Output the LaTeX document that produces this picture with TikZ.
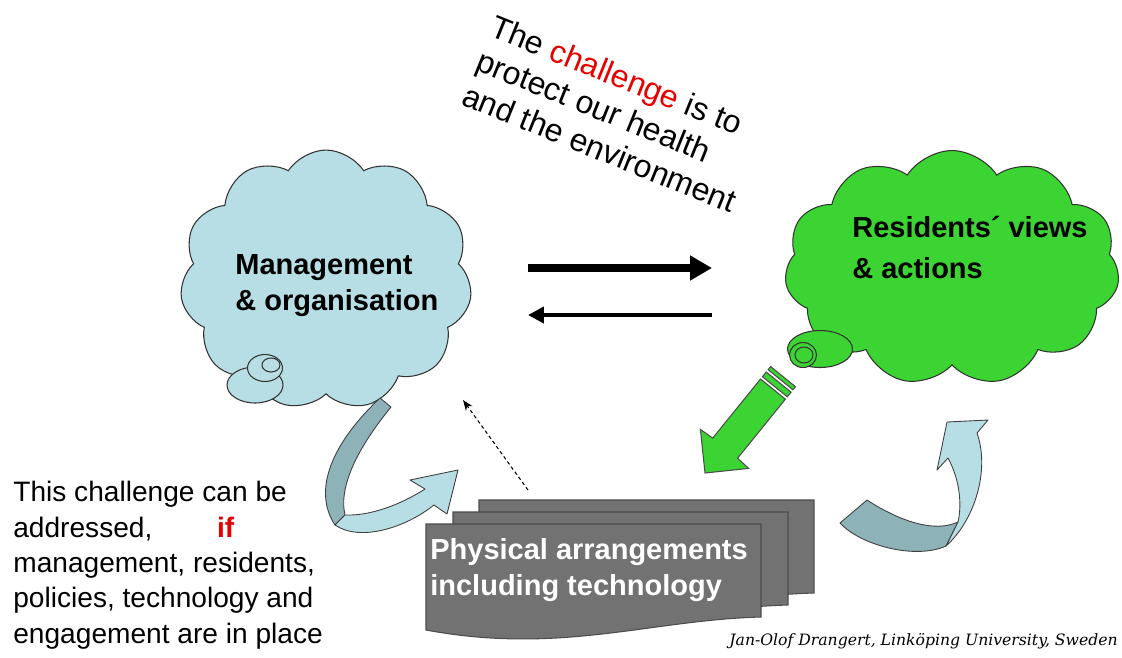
\documentclass[tikz,border=0pt]{standalone}
\usepackage{fontspec}
\setmainfont{Liberation Sans}
\newfontfamily\creditfont{DejaVu Serif}
\usepackage{tikz}
\usetikzlibrary{arrows.meta,shapes.symbols,shapes.geometric}
\definecolor{skyfill}{RGB}{183,222,228}
\definecolor{banddark}{RGB}{141,178,183}
\definecolor{leafgreen}{RGB}{60,212,50}
\definecolor{docgray}{RGB}{114,114,114}
\definecolor{hotred}{RGB}{230,0,0}
\tikzset{x=0.02cm,y=0.02cm}
\tikzset{
  thought/.style={cloud,cloud puffs=11,cloud puff arc=115,draw=black!80,line width=0.6pt,inner sep=0pt},
  bubble/.style={ellipse,draw=black!80,line width=0.6pt,inner sep=0pt},
  boldtext/.style={font=\fontsize{16.5}{20}\selectfont\bfseries,align=left,inner sep=0pt,anchor=base west},
  plaintext/.style={font=\fontsize{16}{20.1}\selectfont,align=left,inner sep=0pt,anchor=base west},
  band/.style={draw=black!75,line width=0.5pt,line join=round},
  sheet/.style={draw=black!70,fill=docgray,line width=0.6pt}
}

\begin{document}
\begin{tikzpicture}
\useasboundingbox (0,0) rectangle (1122,-657);

\node[thought,fill=skyfill,minimum width=5.84cm,minimum height=5.2cm] (mgmt) at (326,-280) {};
\node[bubble,fill=skyfill,minimum width=1.12cm,minimum height=0.72cm] (mb1) at (255,-385) {};
\node[bubble,fill=skyfill,minimum width=0.7cm,minimum height=0.54cm] (mb2) at (265,-368) {};
\node[bubble,fill=skyfill,minimum width=0.36cm,minimum height=0.28cm] (mb3) at (271,-365) {};
\node[boldtext] (mgmtlabel) at (235,-310) {Management\\\& organisation};

\node[thought,fill=leafgreen,minimum width=6.7cm,minimum height=4.7cm] (res) at (952,-268) {};
\node[bubble,fill=leafgreen,minimum width=1.3cm,minimum height=0.74cm] (rb1) at (820,-349) {};
\node[bubble,fill=leafgreen,minimum width=0.54cm,minimum height=0.5cm] (rb2) at (803,-355) {};
\node[bubble,fill=leafgreen,minimum width=0.36cm,minimum height=0.32cm] (rb3) at (804,-355) {};
\node[boldtext,font=\fontsize{16.5}{22.8}\selectfont\bfseries] (reslabel) at (852,-278) {Residents´ views\\\& actions};

\node[plaintext,font=\fontsize{18.2}{21.2}\selectfont,rotate=-22] (challenge) at (460,-104)
  {The \textcolor{hotred}{challenge} is to\\protect our health\\and the environment};

\coordinate (fwdA) at (528,-268);
\coordinate (fwdB) at (712,-268);
\coordinate (backA) at (712,-315);
\coordinate (backB) at (528,-315);
\draw[line width=4pt,-{Triangle[length=12.5pt,width=13.5pt]}] (fwdA) -- (fwdB);
\draw[line width=2.3pt,-{Triangle[length=9pt,width=9pt]}] (backA) -- (backB);

\begin{scope}[shift={(705,-473)},rotate=51]
  \draw[fill=leafgreen,draw=black!70,line width=0.6pt] (0,0) -- (31,31) -- (32,16) -- (108,16) -- (108,-16) -- (32,-16) -- (31,-31) -- cycle;
  \draw[fill=leafgreen,draw=black!70,line width=0.6pt] (111,-16) rectangle (117,16);
  \draw[fill=leafgreen,draw=black!70,line width=0.6pt] (120,-16) rectangle (124,16);
\end{scope}

\foreach \dx/\dy in {53/24,27/12,0/0}
  \draw[sheet,shift={(\dx,\dy)}] (426,-524) -- (761,-524) -- (761,-617) .. controls (650,-620) and (560,-655) .. (426,-630) -- cycle;
\node[boldtext,text=white] (physlabel) at (430,-595) {Physical arrangements\\including technology};

\coordinate (dashA) at (528,-490);
\coordinate (dashB) at (463,-400);
\draw[line width=0.6pt,dash pattern=on 2pt off 1.6pt,-{Stealth[length=6pt,width=4.5pt]}] (dashA) -- (dashB);

\draw[band,fill=banddark] (380,-398) -- (391,-407) .. controls (360,-445) and (338,-485) .. (345,-515) -- (335,-525) .. controls (315,-495) and (325,-450) .. (380,-398) -- cycle;
\draw[band,fill=skyfill] (335,-525) .. controls (360,-542) and (405,-528) .. (434,-505) -- (447,-514) -- (458,-470) -- (410,-480) -- (425,-489) .. controls (400,-505) and (370,-516) .. (345,-515) -- cycle;

\draw[band,fill=banddark] (840,-523) -- (867,-500) .. controls (890,-515) and (930,-535) .. (958,-522) -- (946,-546) .. controls (915,-560) and (860,-545) .. (840,-523) -- cycle;
\draw[band,fill=skyfill] (946,-546) .. controls (975,-520) and (990,-470) .. (977,-433) -- (988,-420) -- (947,-422) -- (937,-470) -- (948,-458) .. controls (960,-480) and (962,-505) .. (958,-522) -- cycle;

\node[plaintext] (condition) at (13,-643)
  {This challenge can be\\\makebox[116pt][l]{addressed,}\textcolor{hotred}{\bfseries if}\\management, residents,\\policies, technology and\\engagement are in place};

\node[inner sep=0pt,anchor=base east,font=\creditfont\itshape\fontsize{8.9}{10}\selectfont] (credit) at (1118,-645)
  {Jan-Olof Drangert, Linköping University, Sweden};
\end{tikzpicture}
\end{document}
